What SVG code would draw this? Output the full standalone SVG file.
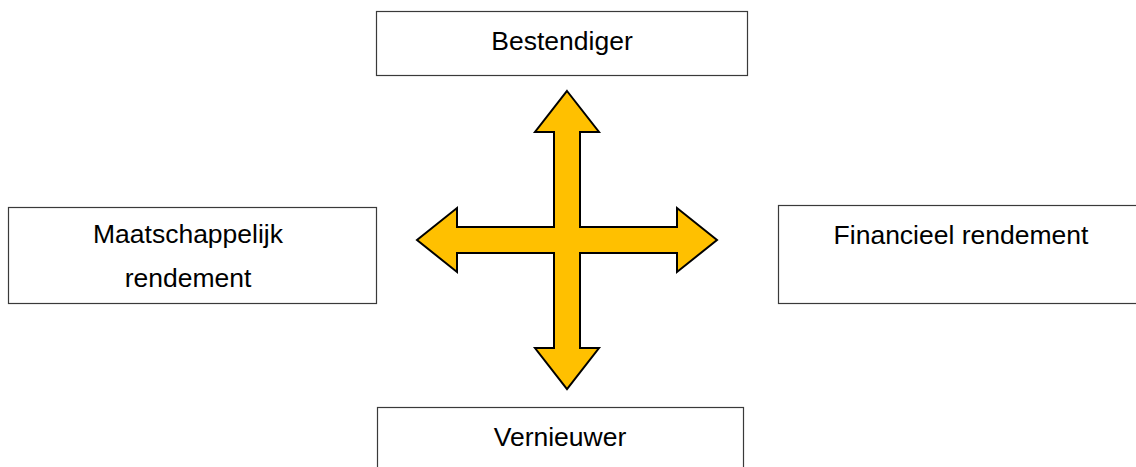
<svg xmlns="http://www.w3.org/2000/svg" width="1136" height="467" viewBox="0 0 1136 467">
  <style>
    .box { fill: #ffffff; stroke: #3a3a3a; stroke-width: 1.2; }
    .label { font-family: "Liberation Sans", Arial, sans-serif; font-size: 26.5px; fill: #000000; text-anchor: middle; }
    .quad { fill: #FFC000; stroke: #000000; stroke-width: 2; stroke-linejoin: miter; }
  </style>
  <rect width="1136" height="467" fill="#ffffff"/>

  <!-- four-way arrow in the middle -->
  <g id="connectors">
    <polygon class="quad" points="567,91 599,132 580,132 580,227 677,227 677,208 717,240 677,272 677,253 580,253 580,348 599,348 567,389 535,348 554,348 554,253 457,253 457,272 417,240 457,208 457,227 554,227 554,132 535,132"/>
  </g>

  <g id="bestendiger">
    <rect class="box" x="376.5" y="11.5" width="371" height="64"/>
    <text class="label" x="562" y="50">Bestendiger</text>
  </g>

  <g id="maatschappelijk-rendement">
    <rect class="box" x="8.5" y="207.5" width="368" height="96"/>
    <text class="label" x="188" y="243">Maatschappelijk</text>
    <text class="label" x="188" y="287">rendement</text>
  </g>

  <g id="financieel-rendement">
    <rect class="box" x="778.5" y="205.5" width="370" height="98"/>
    <text class="label" x="961" y="244">Financieel rendement</text>
  </g>

  <g id="vernieuwer">
    <rect class="box" x="377.5" y="407.5" width="366" height="70"/>
    <text class="label" x="560" y="446">Vernieuwer</text>
  </g>
</svg>
